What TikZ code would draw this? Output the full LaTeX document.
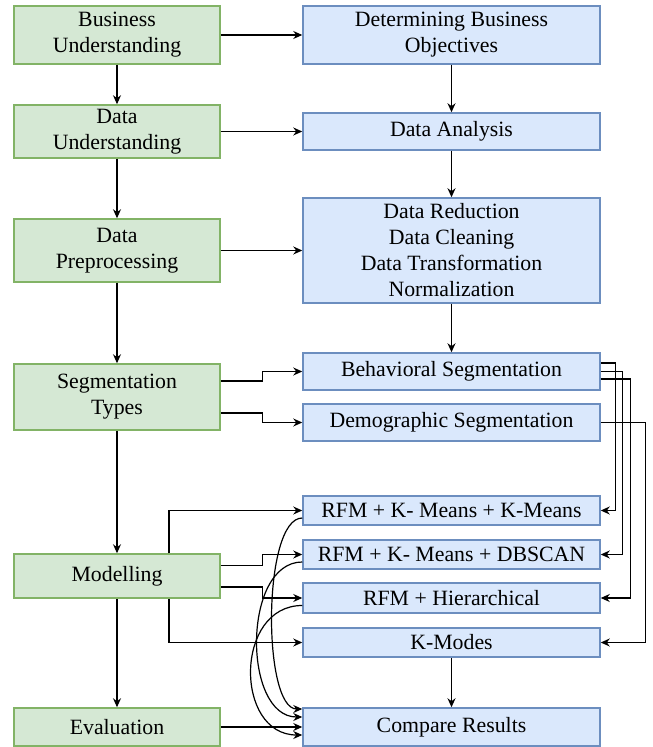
\documentclass[tikz,border=0pt]{standalone}
\usepackage{fontspec}
\setmainfont{Liberation Serif}
\usetikzlibrary{arrows.meta}
\definecolor{gfill}{HTML}{D5E8D4}
\definecolor{gline}{HTML}{82B366}
\definecolor{bfill}{HTML}{DAE8FC}
\definecolor{bline}{HTML}{6C8EBF}
\begin{document}
\begin{tikzpicture}[x=0.5pt,y=-0.5pt,
    phase/.style={draw=gline,fill=gfill,line width=0.75pt,minimum width=103pt,inner sep=0pt,align=center},
    task/.style={draw=bline,fill=bfill,line width=0.75pt,minimum width=148.5pt,inner sep=0pt,align=center},
    arr/.style={-{Stealth[length=4.5pt,width=4pt]},line width=0.6pt},
    font=\fontsize{10.9}{13}\selectfont]
    \useasboundingbox (0,0) rectangle (652,747);
    % left column
    \node[phase,minimum height=29pt]   (bu) at (117,35)    {Business\\Understanding};
    \node[phase,minimum height=26.5pt] (du) at (117,131.5) {Data\\Understanding};
    \node[phase,minimum height=31.5pt] (dp) at (117,250.5) {Data\\Preprocessing};
    \node[phase,minimum height=33pt]   (st) at (117,397)   {Segmentation\\Types};
    \node[phase,minimum height=22pt]   (mo) at (117,576)   {Modelling};
    \node[phase,minimum height=19pt]   (ev) at (117,727)   {Evaluation};
    % right column
    \node[task,minimum height=29pt]   (dbo) at (451.5,35)    {Determining Business\\Objectives};
    \node[task,minimum height=18.5pt] (da)  at (451.5,131.5) {Data Analysis};
    \node[task,minimum height=52.5pt] (dr)  at (451.5,250.5) {Data Reduction\\Data Cleaning\\Data Transformation\\Normalization};
    \node[task,minimum height=18.5pt] (bs)  at (451.5,371.5) {Behavioral Segmentation};
    \node[task,minimum height=18.5pt] (ds)  at (451.5,422.5) {Demographic Segmentation};
    \node[task,minimum height=14.5pt] (kk)  at (451.5,510.5) {RFM + K- Means + K-Means};
    \node[task,minimum height=14.5pt] (kd)  at (451.5,554.5) {RFM + K- Means + DBSCAN};
    \node[task,minimum height=15pt]   (hi)  at (451.5,598)   {RFM + Hierarchical};
    \node[task,minimum height=14.5pt] (km)  at (451.5,642.5) {K-Modes};
    \node[task,minimum height=19pt]   (cr)  at (451.5,727)   {Compare Results};
    % straight arrows
    \foreach \a/\b in {bu/du,du/dp,dp/st,st/mo,mo/ev,dbo/da,da/dr,dr/bs,km/cr,bu/dbo,du/da,dp/dr,ev/cr} {
        \draw[arr] (\a) -- (\b);
    }
    % elbow arrows
    \draw[arr] ([yshift=8pt]st.east) -- ++(42,0) |- (bs);
    \draw[arr] ([yshift=-8pt]st.east) -- ++(42,0) |- (ds);
    \draw[arr] ([xshift=26pt]mo.north) |- (kk);
    \draw[arr] ([yshift=5.25pt]mo.east) -- ++(42,0) |- (kd);
    \draw[arr] ([yshift=-5.5pt]mo.east) -- ++(42,0) |- (hi);
    \draw[arr] ([xshift=26pt]mo.south) |- (km);
    \foreach \s/\d/\t in {4.25pt/15/kk,0pt/22/kd,-3.75pt/30/hi} {
        \draw[arr] ([yshift=\s]bs.east) -- ++(\d,0) |- (\t);
    }
    \draw[arr] (ds.east) -- ++(45,0) |- (km);
    % curved arrows
    \foreach \t/\d/\e in {kk/40/9pt,kd/60/5pt,hi/68/-4pt} {
        \draw[arr] ([yshift=-3.75pt]\t.west) .. controls +(-\d,0) and +(-\d,0) .. ([yshift=\e]cr.west);
    }
\end{tikzpicture}
\end{document}
